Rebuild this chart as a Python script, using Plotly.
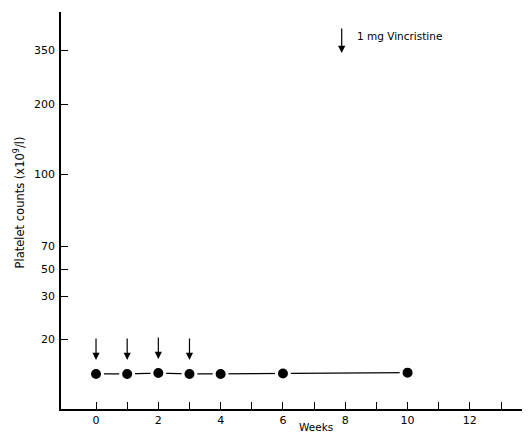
import numpy as np
import plotly.graph_objects as go

# ---- data ----
weeks = [0, 1, 2, 3, 4, 6, 10]
platelets = [12, 12, 12.2, 12, 12, 12.1, 12.3]   # x10^9/l
dose_weeks = [0, 1, 2, 3]                         # 1 mg Vincristine
y_tick_values = [20, 30, 50, 70, 100, 200, 350]
x_tick_values = list(range(0, 14))
x_tick_labels = [str(w) if w % 2 == 0 else "" for w in x_tick_values]

# ---- irregular (hand-drawn) y scale: value -> axis position ----
_scale_pos = [69.7, 113, 139.7, 162.7, 235, 305, 359]


def to_pos(v):
    v = np.asarray(v, dtype=float)
    s = (_scale_pos[1] - _scale_pos[0]) / (y_tick_values[1] - y_tick_values[0])
    below = _scale_pos[0] + (v - y_tick_values[0]) * s
    return np.where(v < y_tick_values[0], below, np.interp(v, y_tick_values, _scale_pos))


FONT = "DejaVu Sans"
pt_y = to_pos(platelets)

fig = go.Figure()
fig.add_trace(go.Scatter(
    x=weeks, y=pt_y, mode="lines+markers",
    line=dict(color="black", width=1.2),
    marker=dict(color="black", size=13, line=dict(color="white", width=3)),
    hoverinfo="skip", showlegend=False,
))

# dose arrows above points
for w in dose_weeks:
    idx = weeks.index(w)
    fig.add_annotation(
        x=w, y=float(pt_y[idx]), xref="x", yref="y",
        showarrow=True, ax=0, ay=-37, standoff=14,
        arrowhead=2, arrowsize=1.2, arrowwidth=1.2, arrowcolor="black", text="",
    )

# legend arrow + text
fig.add_annotation(x=0.5985, y=0.8967, xref="paper", yref="paper",
                   showarrow=True, ax=0, ay=-26, arrowhead=2, arrowsize=1.2,
                   arrowwidth=1.2, arrowcolor="black", text="")
fig.add_annotation(x=0.626, y=0.9395, xref="paper", yref="paper",
                   text="1 mg Vincristine", showarrow=False,
                   xanchor="left", yanchor="middle",
                   font=dict(family=FONT, size=10.5, color="black"))

# axis titles
fig.add_annotation(x=-0.089, y=0.521, xref="paper", yref="paper",
                   text="Platelet counts (x10<sup>9</sup>/l)", textangle=-90,
                   showarrow=False, xanchor="center", yanchor="middle",
                   font=dict(family=FONT, size=11.5, color="black"))
fig.add_annotation(x=7.05, y=-0.045, xref="x", yref="paper",
                   text="Weeks", showarrow=False, xanchor="center", yanchor="middle",
                   font=dict(family=FONT, size=10.5, color="black"))

fig.update_layout(
    width=522, height=424,
    margin=dict(l=53, r=0, t=4, b=23),
    paper_bgcolor="white", plot_bgcolor="white",
    font=dict(family=FONT, size=11, color="black"),
    showlegend=False,
    xaxis=dict(
        range=[-1.124, 13.93], tickmode="array",
        tickvals=x_tick_values, ticktext=x_tick_labels,
        ticks="inside", ticklen=7, tickwidth=1.2, tickcolor="black",
        showline=True, linecolor="black", linewidth=1.5,
        showgrid=False, zeroline=False,
        tickfont=dict(family=FONT, size=11, color="black"),
    ),
    yaxis=dict(
        range=[0, 397], tickmode="array",
        tickvals=list(to_pos(y_tick_values)), ticktext=[str(v) for v in y_tick_values],
        ticks="inside", ticklen=7, tickwidth=1.2, tickcolor="black",
        showline=True, linecolor="black", linewidth=1.5,
        showgrid=False, zeroline=False, ticklabelstandoff=2,
        tickfont=dict(family=FONT, size=11, color="black"),
    ),
)

fig.write_html("out.html")
